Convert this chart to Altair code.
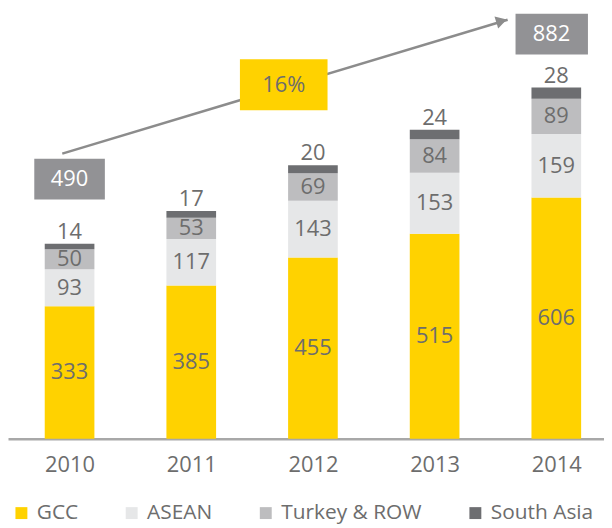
import altair as alt
import pandas as pd

# ---------------- data ----------------
years = [2010, 2011, 2012, 2013, 2014]
regions = ["GCC", "ASEAN", "Turkey & ROW", "South Asia"]
gcc = [333, 385, 455, 515, 606]
asean = [93, 117, 143, 153, 159]
turkey_row = [50, 53, 69, 84, 89]
south_asia = [14, 17, 20, 24, 28]
colors = ["#FFD200", "#E6E7E8", "#BDBDBF", "#6D6E71"]
cagr_label = "16%"

# annotation placement (data units)
X_DOMAIN = [2009.494, 2014.392]
Y_DOMAIN = [0, 1077.3]
arrow_x = [2009.94, 2013.60]
arrow_y = [716, 1052]
head_x, head_y = 2013.55, 1049
cagr_box = dict(x=2011.40, x2=2012.12, y=825, y2=953, tx=2011.76, ty=889)
total_boxes = [
    dict(x=2009.71, x2=2010.29, y=601, y2=703, tx=2010.0, ty=652),
    dict(x=2013.665, x2=2014.26, y=965, y2=1067, tx=2013.96, ty=1016),
]

TXT = "#6D6D6D"
FONT = "Open Sans"

series = [gcc, asean, turkey_row, south_asia]
rows = []
for i, yr in enumerate(years):
    base = 0
    for r, vals in zip(regions, series):
        v = vals[i]
        rows.append(dict(year=yr, region=r, value=v, y0=base, y1=base + v,
                         mid=base + v / 2, order=regions.index(r)))
        base += v
df = pd.DataFrame(rows)
totals = [sum(s[i] for s in series) for i in range(len(years))]

xs = alt.Scale(domain=X_DOMAIN, nice=False, zero=False, padding=0)
ys = alt.Scale(domain=Y_DOMAIN, nice=False, zero=False, padding=0)
xaxis = alt.Axis(values=years, format="d", title=None, grid=False, ticks=False,
                 labelFontSize=22, labelFont=FONT, labelColor=TXT,
                 labelFlush=False, domainColor="#A8A8A8", domainWidth=2.5,
                 labelPadding=16)


def X(field):
    return alt.X(field, scale=xs, axis=xaxis)


def Y(field):
    return alt.Y(field, scale=ys, axis=None)


bars = alt.Chart(df).mark_bar(size=50).encode(
    x=X("year:Q"),
    y=Y("y0:Q"),
    y2="y1:Q",
    color=alt.Color("region:N", scale=alt.Scale(domain=regions, range=colors),
                    title=None,
                    legend=alt.Legend(orient="none", legendX=3, legendY=496,
                                      direction="horizontal", columns=4,
                                      symbolType="square", symbolSize=144,
                                      symbolStrokeWidth=0, labelFontSize=21,
                                      labelFont=FONT, labelColor=TXT,
                                      columnPadding=43, labelOffset=5, padding=0)),
    order="order:Q",
)

inner = alt.Chart(df[df.region != "South Asia"]).mark_text(
    font=FONT, fontSize=22, color=TXT, baseline="middle").encode(
    x=X("year:Q"), y=Y("mid:Q"), text="value:Q")

top = alt.Chart(df[df.region == "South Asia"]).mark_text(
    font=FONT, fontSize=22, color=TXT, baseline="alphabetic", dy=-5).encode(
    x=X("year:Q"), y=Y("y1:Q"), text="value:Q")

arrow_df = pd.DataFrame({"x": arrow_x, "y": arrow_y})
arrow = alt.Chart(arrow_df).mark_line(color="#8C8C8C", strokeWidth=2.5).encode(
    x=X("x:Q"), y=Y("y:Q"))
head = alt.Chart(pd.DataFrame({"x": [head_x], "y": [head_y]})).mark_point(
    shape="triangle-right", size=160, filled=True, color="#8C8C8C", opacity=1,
    angle=343).encode(x=X("x:Q"), y=Y("y:Q"))

cagr_df = pd.DataFrame([dict(cagr_box, label=cagr_label)])
cagr_rect = alt.Chart(cagr_df).mark_rect(color="#FFD200").encode(
    x=X("x:Q"), x2="x2:Q", y=Y("y:Q"), y2="y2:Q")
cagr_text = alt.Chart(cagr_df).mark_text(
    font=FONT, fontSize=22, color=TXT, baseline="middle").encode(
    x=X("tx:Q"), y=Y("ty:Q"), text="label:N")

tb = pd.DataFrame([dict(b, label=str(t)) for b, t in
                   zip(total_boxes, [totals[0], totals[-1]])])
tot_rect = alt.Chart(tb).mark_rect(color="#929295").encode(
    x=X("x:Q"), x2="x2:Q", y=Y("y:Q"), y2="y2:Q")
tot_text = alt.Chart(tb).mark_text(
    font=FONT, fontSize=22, color="white", baseline="middle").encode(
    x=X("tx:Q"), y=Y("ty:Q"), text="label:N")

chart = alt.layer(bars, inner, top, arrow, head, cagr_rect, cagr_text,
                  tot_rect, tot_text).properties(
    width=600, height=432, padding=0, background="white"
).configure_view(strokeWidth=0)

chart.save("out.html", embed_options={"renderer": "svg", "actions": False})
